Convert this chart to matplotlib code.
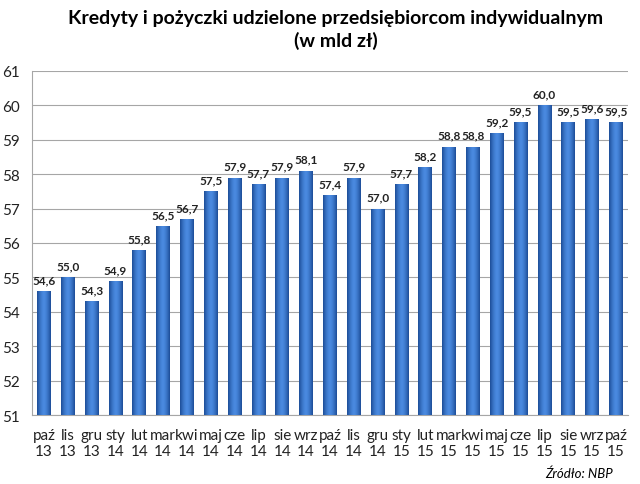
import numpy as np
import matplotlib.pyplot as plt

months = ["paź", "lis", "gru", "sty", "lut", "mar", "kwi", "maj", "cze", "lip",
          "sie", "wrz", "paź", "lis", "gru", "sty", "lut", "mar", "kwi", "maj",
          "cze", "lip", "sie", "wrz", "paź"]
years = ["13", "13", "13", "14", "14", "14", "14", "14", "14", "14",
         "14", "14", "14", "14", "14", "15", "15", "15", "15", "15",
         "15", "15", "15", "15", "15"]
values = [54.6, 55.0, 54.3, 54.9, 55.8, 56.5, 56.7, 57.5, 57.9, 57.7,
          57.9, 58.1, 57.4, 57.9, 57.0, 57.7, 58.2, 58.8, 58.8, 59.2,
          59.5, 60.0, 59.5, 59.6, 59.5]

plt.rcParams['font.family'] = ['Lato', 'DejaVu Sans']

fig = plt.figure(figsize=(6.4, 4.85), dpi=100)
ax = fig.add_axes([0.05, 0.142, 0.931, 0.71])

x = np.arange(len(values))
width = 0.58
base = 51
bars = ax.bar(x, np.array(values) - base, width, bottom=base, color='none',
              edgecolor='none', zorder=3)

# horizontal gradient to mimic the cylinder look
grad = np.linspace(-1, 1, 64)
shade = 1 - np.abs(grad) ** 1.6
cmap = plt.matplotlib.colors.LinearSegmentedColormap.from_list(
    'b', ['#1c4c96', '#4a8ae0'])
for b in bars:
    x0 = b.get_x()
    img = ax.imshow(shade[np.newaxis, :], cmap=cmap, aspect='auto',
                    extent=(x0, x0 + b.get_width(), base, b.get_y() + b.get_height()),
                    zorder=3, interpolation='bilinear')
    img.set_clip_path(b)

for xi, v in zip(x, values):
    ax.text(xi, v + 0.17, f"{v:.1f}".replace('.', ','), ha='center', va='bottom',
            fontsize=8.5, fontweight='bold', color='#222222')

ax.set_xlim(-0.5, len(values) - 0.5)
ax.set_ylim(51, 61)
ax.set_yticks(np.arange(51, 62, 1))
ax.set_xticks(x)
ax.set_xticklabels([f"{m}\n{y}" for m, y in zip(months, years)], fontsize=11,
                   linespacing=1.2)
ax.tick_params(axis='both', length=0, colors='#222222')
ax.tick_params(axis='x', pad=9, labelsize=11)
ax.tick_params(axis='y', pad=9, labelsize=11)
ax.grid(axis='y', color='#a6a6a6', linewidth=0.8, zorder=0)
for s in ['top', 'right']:
    ax.spines[s].set_visible(False)
for s in ['left', 'bottom']:
    ax.spines[s].set_color('#a6a6a6')

fig.text(0.525, 0.98, "Kredyty i pożyczki udzielone przedsiębiorcom indywidualnym\n(w mld zł)",
         ha='center', va='top', fontsize=14, fontweight='bold', linespacing=1.35)
fig.text(0.958, 0.01, "Źródło: NBP", ha='right', va='bottom', fontsize=9.5, style='italic')

fig.savefig('out.png', dpi=100)
